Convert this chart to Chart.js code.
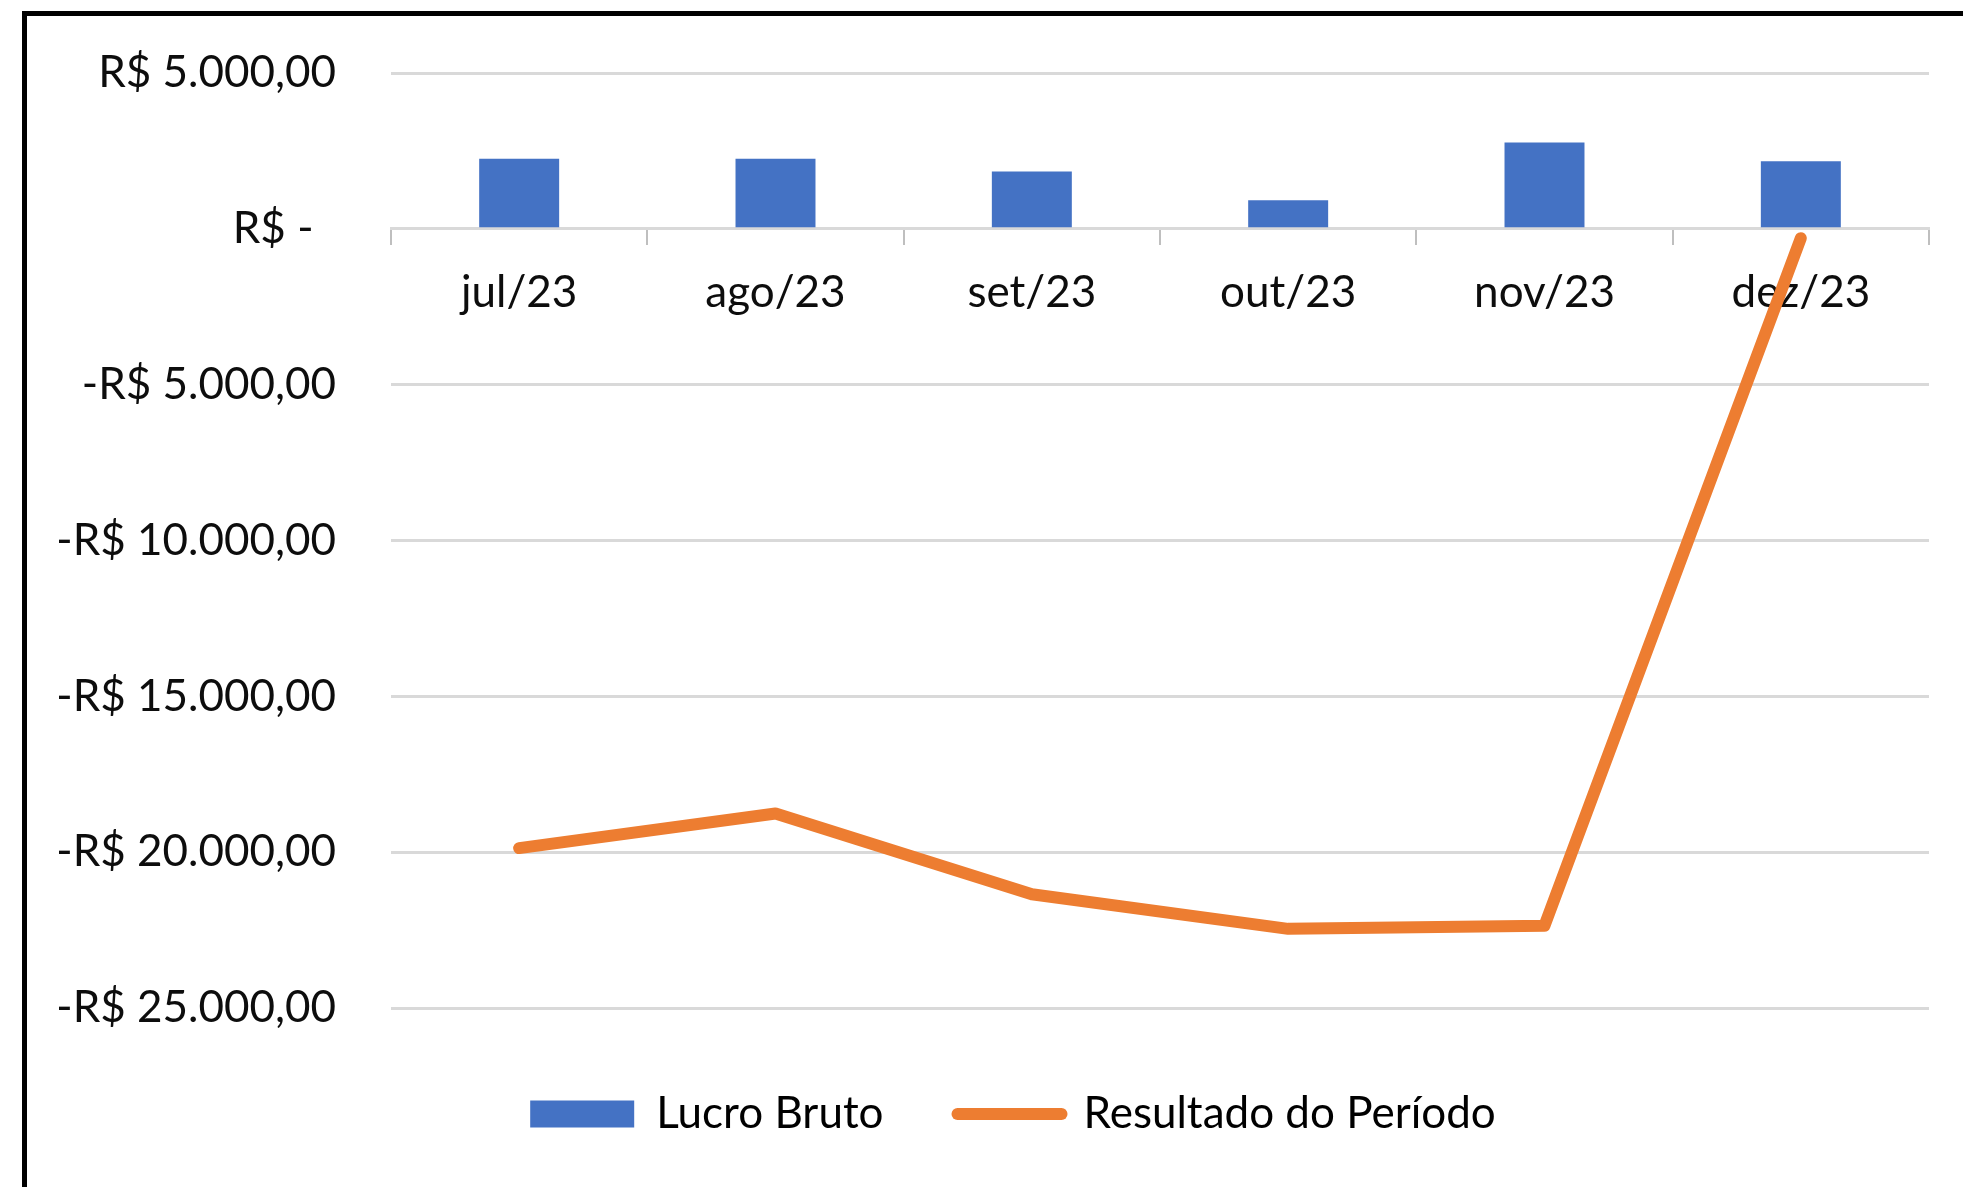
<!DOCTYPE html>
<html>
<head>
<meta charset="utf-8">
<script src="https://cdn.jsdelivr.net/npm/chart.js@4.4.1/dist/chart.umd.min.js"></script>
<style>
  html, body { margin: 0; padding: 0; background: #fff; overflow: hidden; width: 1963px; height: 1187px; }
  #frame { position: absolute; left: 22px; top: 11px; width: 1969px; height: 1230px;
           border-left: 5px solid #000; border-top: 5px solid #000; background: #fff; }
  #c { display: block; }
</style>
</head>
<body>
<div id="frame"><canvas id="c" width="1969" height="1230"></canvas></div>
<script>
const categories = ['jul/23', 'ago/23', 'set/23', 'out/23', 'nov/23', 'dez/23'];
const lucroBruto = [2250, 2250, 1840, 920, 2770, 2170];
const resultadoPeriodo = [-19870, -18760, -21350, -22460, -22360, -300];
const yTickValues = [-25000, -20000, -15000, -10000, -5000, 0, 5000];
const yTickLabels = ['-R$ 25.000,00', '-R$ 20.000,00', '-R$ 15.000,00', '-R$ 10.000,00', '-R$ 5.000,00', 'R$ -  ', 'R$ 5.000,00'];
const seriesNames = ['Lucro Bruto', 'Resultado do Período'];

const BLUE = '#4472C4';
const ORANGE = '#ED7D31';
const GRID = '#D9D9D9';
const TEXT = '#0d0d0d';

Chart.defaults.font.family = 'Lato, "Open Sans", sans-serif';
Chart.defaults.font.size = 44;
Chart.defaults.color = TEXT;

// Excel centres the legend on the whole chart box (which extends past the picture), so nudge it.
const legendNudge = {
  id: 'legendNudge',
  afterLayout(chart) {
    const L = chart.legend;
    if (!L) return;
    L.left += 35; L.right += 35;
    L.top += 10; L.bottom += 10;
  }
};

new Chart(document.getElementById('c'), {
  data: {
    labels: categories,
    datasets: [
      {
        type: 'bar',
        label: seriesNames[0],
        data: lucroBruto,
        backgroundColor: BLUE,
        borderWidth: 0,
        barPercentage: 0.312,
        categoryPercentage: 1,
        order: 2
      },
      {
        type: 'line',
        label: seriesNames[1],
        data: resultadoPeriodo,
        borderColor: ORANGE,
        backgroundColor: ORANGE,
        borderWidth: 12,
        borderCapStyle: 'round',
        borderJoinStyle: 'round',
        pointRadius: 0,
        tension: 0,
        fill: false,
        order: 1
      }
    ]
  },
  plugins: [legendNudge],
  options: {
    responsive: false,
    animation: false,
    events: [],
    layout: { padding: { left: 0, top: 57, right: 67, bottom: 110 } },
    plugins: {
      tooltip: { enabled: false },
      title: { display: false },
      legend: {
        position: 'bottom',
        labels: {
          usePointStyle: true,
          pointStyleWidth: 104,
          boxHeight: 27,
          padding: 74,
          color: TEXT,
          font: { size: 44 },
          generateLabels(chart) {
            return chart.data.datasets.map((ds, i) => ({
              text: ds.label,
              datasetIndex: i,
              fillStyle: ds.type === 'bar' ? BLUE : ORANGE,
              strokeStyle: ds.type === 'bar' ? BLUE : ORANGE,
              lineWidth: ds.type === 'bar' ? 0 : 12,
              lineCap: 'round',
              pointStyle: ds.type === 'bar' ? 'rect' : 'line',
              hidden: false
            }));
          }
        }
      }
    },
    scales: {
      x: {
        position: { y: 0 },
        offset: true,
        grid: {
          offset: true,
          drawOnChartArea: false,
          drawTicks: true,
          tickLength: 15,
          color: '#BFBFBF',
          lineWidth: 2
        },
        border: { display: true, color: GRID, width: 3 },
        ticks: { padding: 23, color: TEXT, font: { size: 44 }, maxRotation: 0, autoSkip: false }
      },
      y: {
        min: -25000,
        max: 5000,
        afterFit(scale) { scale.width = 364; },
        afterBuildTicks(scale) { scale.ticks = yTickValues.map(v => ({ value: v })); },
        grid: { color: GRID, lineWidth: 3, drawTicks: true, tickLength: 55, tickColor: 'rgba(0,0,0,0)' },
        border: { display: false },
        ticks: {
          padding: 0,
          color: TEXT,
          font: { size: 44 },
          callback(value) {
            const i = yTickValues.indexOf(value);
            return i >= 0 ? yTickLabels[i] : '';
          }
        }
      }
    }
  }
});
</script>
</body>
</html>
